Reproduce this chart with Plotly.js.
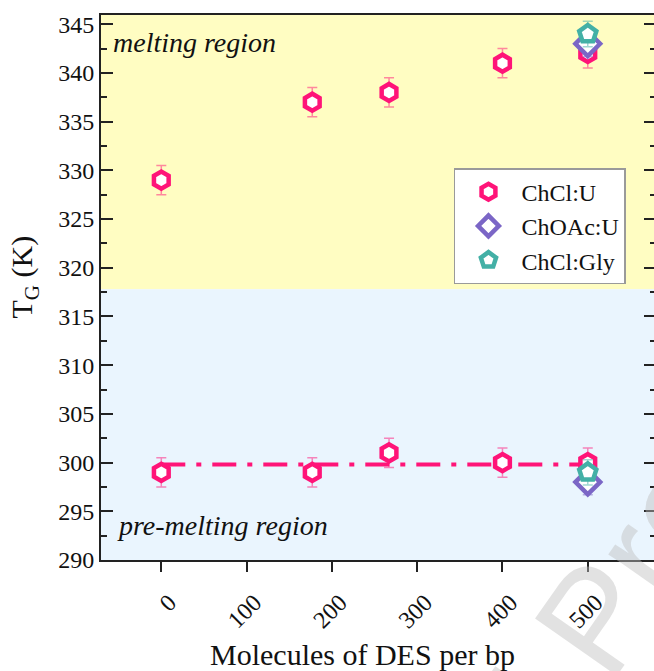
<!DOCTYPE html>
<html>
<head>
<meta charset="utf-8">
<script src="https://cdn.plot.ly/plotly-3.0.1.min.js"></script>
<style>
  html, body { margin: 0; padding: 0; background: #fff; overflow: hidden; }
  #chart { width: 656px; height: 671px; }
</style>
</head>
<body>
<div id="chart"></div>
<script>
// Transition temperature T_G versus number of DES molecules per base pair
const chclU_x   = [0, 177, 267, 400, 500, 0, 177, 267, 400, 500];
const chclU_y   = [329, 337, 338, 341, 342, 299, 299, 301, 300, 300];
const chclU_err = [1.5, 1.5, 1.5, 1.5, 1.5, 1.5, 1.5, 1.5, 1.5, 1.5];

const choacU_x   = [500, 500];
const choacU_y   = [343, 298];
const choacU_err = [1.3, 1.3];

const chclGly_x   = [500, 500];
const chclGly_y   = [344, 299];
const chclGly_err = [1.3, 1.3];

// average pre-melting level drawn as a dash-dot guide
const fitX = [0, 500];
const fitY = [299.8, 299.8];

// boundary between the two regions (K)
const regionSplit = 317.8;

const xTicks = [0, 100, 200, 300, 400, 500];

const PINK = '#FF1478', PURPLE = '#7B66C6', TEAL = '#43B0A6';
const SERIF = 'Liberation Serif';

const traces = [
  {
    x: fitX, y: fitY, mode: 'lines', showlegend: false, hoverinfo: 'skip',
    line: { color: PINK, width: 4, dash: '24px,11px,5px,11px' }
  },
  {
    name: 'ChCl:U', x: chclU_x, y: chclU_y, mode: 'markers',
    error_y: { type: 'data', array: chclU_err, visible: true, color: 'rgba(255,20,120,0.5)', thickness: 1.5, width: 5 },
    marker: { symbol: 'hexagon', size: 17, color: '#fff', line: { color: PINK, width: 4.5 } }
  },
  {
    name: 'ChOAc:U', x: choacU_x, y: choacU_y, mode: 'markers',
    error_y: { type: 'data', array: choacU_err, visible: true, color: 'rgba(123,102,198,0.5)', thickness: 1.5, width: 5 },
    marker: { symbol: 'diamond', size: 19, color: '#fff', line: { color: PURPLE, width: 4.5 } }
  },
  {
    name: 'ChCl:Gly', x: chclGly_x, y: chclGly_y, mode: 'markers',
    error_y: { type: 'data', array: chclGly_err, visible: true, color: 'rgba(67,176,166,0.5)', thickness: 1.5, width: 5 },
    marker: { symbol: 'pentagon', size: 18, color: '#fff', line: { color: TEAL, width: 4.5 } }
  }
];

const layout = {
  width: 656, height: 671,
  margin: { l: 101, r: 0, t: 15, b: 111 },
  paper_bgcolor: '#fff', plot_bgcolor: '#fff',
  font: { family: SERIF, color: '#111', size: 24 },
  showlegend: true,
  legend: {
    x: 0.636, y: 0.719, xanchor: 'left', yanchor: 'top',
    bgcolor: '#fff', bordercolor: '#9a9a9a', borderwidth: 1.5,
    font: { family: SERIF, size: 24, color: '#111' },
    itemwidth: 56, tracegroupgap: 0
  },
  xaxis: {
    range: [-70.7, 580], showgrid: false, zeroline: false,
    tickmode: 'array', tickvals: xTicks, ticktext: xTicks.map(String),
    ticks: 'outside', ticklen: 10, tickwidth: 2, tickcolor: '#222',
    tickangle: -45, ticklabelshift: 8, ticklabelstandoff: 7,
    tickfont: { family: SERIF, size: 24, color: '#111' },
    showline: true, linecolor: '#222', linewidth: 2, mirror: true,
    title: { text: '' }
  },
  yaxis: {
    range: [290, 345.95], showgrid: false, zeroline: false,
    tickmode: 'linear', tick0: 290, dtick: 5,
    ticks: 'inside', ticklen: 12, tickwidth: 2, tickcolor: '#222',
    minor: { dtick: 2.5, ticks: 'inside', ticklen: 6, tickwidth: 2, tickcolor: '#222' },
    tickfont: { family: SERIF, size: 24, color: '#111' },
    showline: true, linecolor: '#222', linewidth: 2, mirror: 'ticks',
    title: { text: '' }
  },
  shapes: [
    { type: 'rect', xref: 'paper', yref: 'y', x0: 0, x1: 1, y0: regionSplit, y1: 345.95,
      fillcolor: '#FFFDC2', line: { width: 0 }, layer: 'below' },
    { type: 'rect', xref: 'paper', yref: 'y', x0: 0, x1: 1, y0: 290, y1: regionSplit,
      fillcolor: '#EAF5FE', line: { width: 0 }, layer: 'below' }
  ],
  annotations: [
    { text: 'melting region', xref: 'paper', yref: 'paper', x: 0.018, y: 0.95,
      xanchor: 'left', yanchor: 'middle', showarrow: false,
      font: { family: SERIF, size: 28, color: '#111', style: 'italic' } },
    { text: 'pre-melting region', xref: 'paper', yref: 'paper', x: 0.026, y: 0.063,
      xanchor: 'left', yanchor: 'middle', showarrow: false,
      font: { family: SERIF, size: 28, color: '#111', style: 'italic' } },
    // axis titles
    { text: 'Molecules of DES per bp', xref: 'paper', yref: 'paper', x: 0.472, y: -0.173,
      xanchor: 'center', yanchor: 'middle', showarrow: false,
      font: { family: SERIF, size: 30, color: '#111' } },
    { text: 'T<sub>G</sub> (K)', xref: 'paper', yref: 'paper', x: -0.139, y: 0.52,
      xanchor: 'center', yanchor: 'middle', textangle: -90, showarrow: false,
      font: { family: SERIF, size: 30, color: '#111' } },
    { text: 'Journal Pre-proof', xref: 'paper', yref: 'paper', x: 0.89, y: -0.11,
      xanchor: 'center', yanchor: 'middle', textangle: -55, showarrow: false,
      font: { family: 'Liberation Sans', size: 145, color: 'rgba(190,190,190,0.45)' } }
  ]
};

Plotly.newPlot('chart', traces, layout, { displayModeBar: false, staticPlot: true });
</script>
</body>
</html>
